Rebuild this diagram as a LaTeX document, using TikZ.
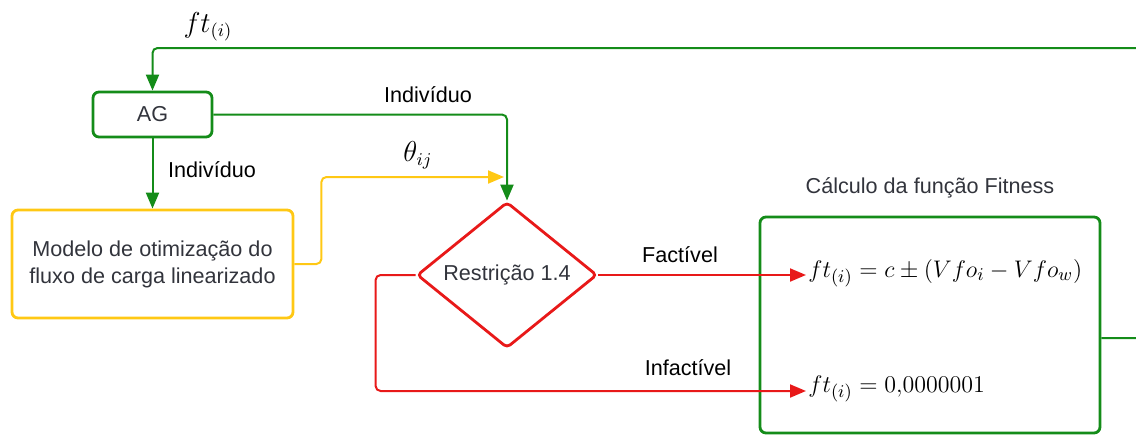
\documentclass[tikz,border=0pt]{standalone}
\usepackage{fontspec}
\setmainfont{Liberation Sans}
\usetikzlibrary{shapes.geometric,arrows.meta}

\definecolor{verde}{RGB}{20,140,25}
\definecolor{amarelo}{RGB}{255,200,20}
\definecolor{vermelho}{RGB}{232,25,25}
\definecolor{cinza}{RGB}{50,52,60}

\begin{document}
\begin{tikzpicture}[x=0.5pt, y=-0.5pt,
    font=\fontsize{10.8}{13.5}\selectfont,
    caixa/.style={draw, rounded corners=3pt, line width=1.4pt, align=center,
        text=cinza, inner sep=0pt},
    seta/.style={line width=1pt, rounded corners=2.5pt,
        -{Triangle[length=8pt, width=6.5pt]}},
    formula/.style={anchor=west, inner sep=1pt, font=\fontsize{13.2}{16}\selectfont}]

    % Fix the page to the size of the reference
    \useasboundingbox (0,0) rectangle (1136,435);

    % Boxes of the flow
    \node[caixa, draw=verde, minimum width=59.5pt, minimum height=22.5pt] (ag) at (152.5,114.5) {AG};
    \node[caixa, draw=amarelo, minimum width=140.5pt, minimum height=54pt] (modelo) at (152.5,264)
        {Modelo de otimização do\\fluxo de carga linearizado};
    \node[caixa, draw=vermelho, diamond, rounded corners=2pt, aspect=1.23,
        minimum width=90pt, minimum height=73pt] (restricao) at (507,275) {Restrição 1.4};
    \node[caixa, draw=verde, minimum width=170pt, minimum height=108pt] (fitness) at (930,325) {};

    % Title and formulas of the fitness box
    \node[text=cinza] (titulo) at (930,188) {Cálculo da função Fitness};
    \node[formula] (fact) at (806,273) {$ft_{(i)} = c \pm (Vfo_i - Vfo_w)$};
    \node[formula] (infact) at (806,389) {$ft_{(i)} = 0{,}0000001$};

    % Free ends of the arrows
    \coordinate (theta) at (504,177);
    \coordinate (pfact) at (806,275);
    \coordinate (pinfact) at (806,391);

    % Connectors
    \draw[seta, verde] (ag.east) -| (restricao.north);
    \draw[seta, verde] (ag.south) -- (modelo.north);
    \draw[seta, amarelo] (modelo.east) -- ++(27,0) |- (theta);
    \draw[seta, vermelho] (restricao.east) -- (pfact);
    \draw[seta, vermelho] (restricao.west) -- ++(-40,0) |- (pinfact);
    \draw[seta, verde] ([yshift=-6.5pt]fitness.east) -- ++(80,0) |- (300,48) -| (ag.north);

    % Labels of the connectors
    \node (rotfit) at (208,27) {\fontsize{13.5}{16}\selectfont$ft_{(i)}$};
    \node (rotind1) at (428,95) {Indivíduo};
    \node (rotind2) at (212,170) {Indivíduo};
    \node (rottheta) at (418,155) {\fontsize{13.5}{16}\selectfont$\theta_{ij}$};
    \node (rotfact) at (680,255) {Factível};
    \node (rotinfact) at (688,368) {Infactível};

\end{tikzpicture}
\end{document}
